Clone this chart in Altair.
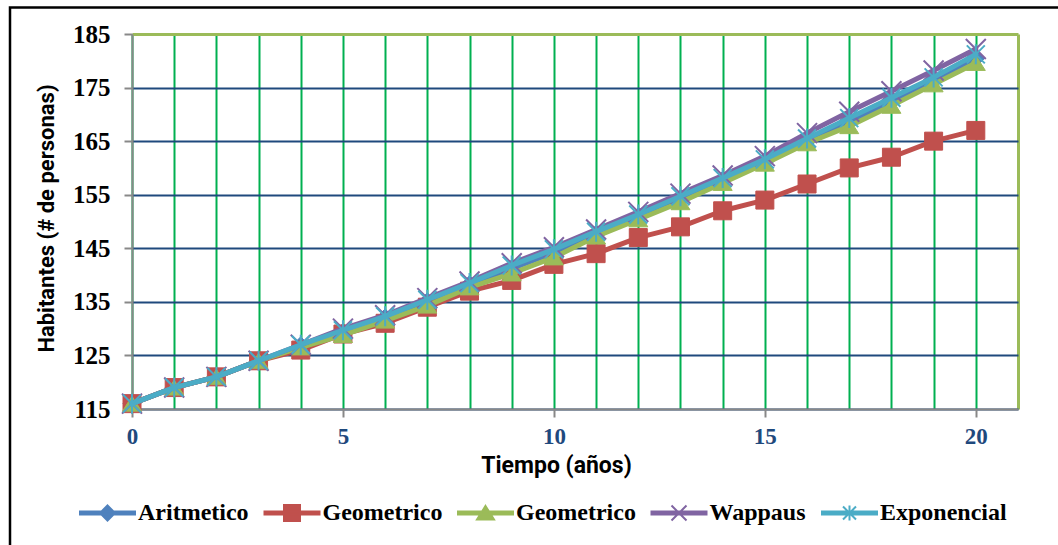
import altair as alt
import pandas as pd

# ---------------- data ----------------
years = list(range(21))
aritmetico = [116, 119, 121, 124, 126.8, 129.3, 132, 135, 138.2, 141.2, 144.2,
              147.6, 150.9, 154.2, 157.7, 161.2, 165, 168.6, 172.4, 176.3, 180.5]
geometrico = [116, 119, 121, 124, 126, 129, 131, 134, 137, 139, 142,
              144, 147, 149, 152, 154, 157, 160, 162, 165, 167]
geometrico_2 = [116, 119, 121, 124, 126.5, 128.8, 131.5, 134.3, 137.7, 140.3, 143.3,
                147.2, 150.4, 153.6, 157.2, 160.8, 164.6, 167.8, 171.6, 175.6, 179.6]
wappaus = [116, 119, 121, 124, 127, 130, 132.5, 135.7, 138.8, 142.2, 145.2,
           148.5, 151.8, 155.2, 158.6, 162.2, 166.5, 170.5, 174.3, 178.2, 182.2]
exponencial = [116, 119, 121, 124, 127, 129.7, 132.3, 135.4, 138.5, 141.8, 144.8,
               148.1, 151.3, 154.7, 158.1, 161.6, 165.5, 169.3, 173.1, 176.9, 181.2]

series_keys = ["Aritmetico", "Geometrico", "Geometrico_2", "Wappaus", "Exponencial"]
series_labels = ["Aritmetico", "Geometrico", "Geometrico", "Wappaus", "Exponencial"]
series_values = [aritmetico, geometrico, geometrico_2, wappaus, exponencial]
series_colors = ["#4F81BD", "#C0504D", "#9BBB59", "#8064A2", "#4BACC6"]

y_ticks = [115, 125, 135, 145, 155, 165, 175, 185]
x_grid = list(range(0, 22))

# marker shapes (unit = 5 px with size=100)
marker_paths = [
    "M0,-1.8L1.8,0L0,1.8L-1.8,0Z",
    "M-1.8,-1.8H1.8V1.8H-1.8Z",
    "M0,-1.5L1.9,1.5L-1.9,1.5Z",
    "M-2,-2L2,2M-2,2L2,-2",
    "M-1.8,-1.8L1.8,1.8M-1.8,1.8L1.8,-1.8M0,-2L0,2",
]
marker_stroke = [1, 1, 1, 2, 2]
LINE = "M-5.5,-0.3H5.5V0.3H-5.5Z "
legend_paths = [
    LINE + "M0,-1.5L1.5,0L0,1.5L-1.5,0Z",
    LINE + "M-1.6,-1.6H1.6V1.6H-1.6Z",
    LINE + "M0,-1.4L1.7,1.3L-1.7,1.3Z",
    LINE + "M-1.5,-1.5L1.5,1.5M-1.5,1.5L1.5,-1.5",
    LINE + "M-1.3,-1.3L1.3,1.3M-1.3,1.3L1.3,-1.3M0,-1.5L0,1.5",
]

rows = []
for key, vals in zip(series_keys, series_values):
    for t, v in zip(years, vals):
        rows.append({"t": t, "hab": v, "serie": key})
df = pd.DataFrame(rows)

# ---------------- axes ----------------
x_axis = alt.Axis(
    values=x_grid,
    grid=True,
    gridColor={"condition": {"test": "datum.value === 21", "value": "#9BBB59"}, "value": "#00B050"},
    gridWidth={"condition": {"test": "datum.value === 21", "value": 3}, "value": 2},
    gridOpacity=1,
    ticks=True,
    tickOpacity={"condition": {"test": "datum.value % 5 === 0", "value": 1}, "value": 0},
    tickColor="#888888", tickWidth=2, tickSize=8,
    domainColor="#888888", domainWidth=2,
    labelExpr="datum.value % 5 === 0 ? datum.label : ''",
    labelFont="Liberation Serif", labelFontWeight="bold", labelFontSize=23,
    labelColor="#1F497D", labelPadding=8, labelFlush=False, labelOverlap=False,
    title="Tiempo (años)", titleFont="Roboto", titleFontWeight="bold",
    titleFontSize=23, titleColor="black", titleX=424, titleY=56,
    titleAlign="center", titleBaseline="middle",
)
y_axis = alt.Axis(
    values=y_ticks,
    grid=True,
    gridColor={"condition": {"test": "datum.value === 185", "value": "#9BBB59"}, "value": "#1F497D"},
    gridWidth={"condition": {"test": "datum.value === 185", "value": 3}, "value": 2},
    gridOpacity=1,
    tickColor="#888888", tickWidth=2, tickSize=8,
    domainColor="#888888", domainWidth=2,
    labelFont="Liberation Serif", labelFontWeight="bold", labelFontSize=25,
    labelColor="black", labelPadding=14,
    title="Habitantes (# de personas)", titleFont="Roboto", titleFontWeight="bold",
    titleFontSize=22, titleColor="black", titleX=-86, titleY=184,
    titleAlign="center", titleBaseline="middle", titleAngle=270,
)

X = alt.X("t:Q", scale=alt.Scale(domain=[0, 21], nice=False, zero=False), axis=x_axis)
Y = alt.Y("hab:Q", scale=alt.Scale(domain=[115, 185], nice=False, zero=False), axis=y_axis)

base = alt.Chart(df)
layers = []

# outer frame of the chart
frame = alt.Chart(pd.DataFrame({"f": [0]})).mark_rect(
    filled=False, stroke="black", strokeWidth=2.5
).encode(x=alt.value(-122), x2=alt.value(960), y=alt.value(-26.5), y2=alt.value(580))
layers.append(frame)

for key, col, path, sw in zip(series_keys, series_colors, marker_paths, marker_stroke):
    sub = base.transform_filter(alt.datum.serie == key)
    layers.append(sub.mark_line(color=col, strokeWidth=5, strokeJoin="round",
                                strokeCap="round").encode(x=X, y=Y))
    layers.append(sub.mark_point(shape=path, size=100, filled=True, fill=col, stroke=col,
                                 strokeWidth=sw, opacity=1).encode(x=X, y=Y))

# legend
label_expr = "datum.label"
for k, l in zip(series_keys, series_labels):
    if k != l:
        label_expr = f"datum.label === '{k}' ? '{l}' : ({label_expr})"


def make_legend():
    return alt.Legend(
        orient="none", legendX=-60, legendY=467, direction="horizontal", columns=5,
        title=None, labelFont="Liberation Serif", labelFontWeight="bold",
        labelFontSize=24, labelColor="black", labelExpr=label_expr,
        symbolSize=100, symbolStrokeWidth=2, symbolOffset=23.5, labelOffset=18.5,
        columnPadding=7.5, padding=0, labelBaseline="middle",
    )


legend_layer = base.transform_filter("false").mark_point(
    size=100, filled=True, strokeWidth=2, opacity=1
).encode(
    x=X, y=Y,
    shape=alt.Shape("serie:N", scale=alt.Scale(domain=series_keys, range=legend_paths),
                    legend=make_legend()),
    fill=alt.Fill("serie:N", scale=alt.Scale(domain=series_keys, range=series_colors),
                  legend=make_legend()),
    stroke=alt.Stroke("serie:N", scale=alt.Scale(domain=series_keys, range=series_colors),
                      legend=make_legend()),
)
layers.append(legend_layer)

chart = alt.layer(*layers).properties(
    width=886, height=375,
    autosize=alt.AutoSizeParams(type="none"),
    padding={"left": 132, "top": 34, "right": 40, "bottom": 136},
    background="white",
).configure_view(stroke="transparent")

chart.save("out.html", embed_options={"renderer": "svg", "actions": False})
